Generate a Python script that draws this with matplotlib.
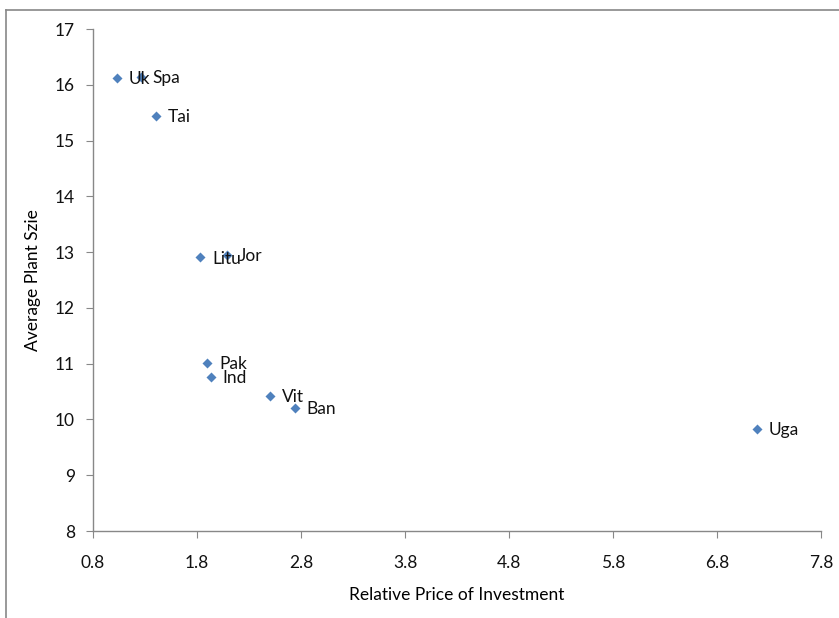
import matplotlib
matplotlib.use('Agg')
import matplotlib.pyplot as plt
from matplotlib.lines import Line2D

# data
countries = ['Uk', 'Spa', 'Tai', 'Litu', 'Jor', 'Pak', 'Ind', 'Vit', 'Ban', 'Uga']
price = [1.03, 1.26, 1.41, 1.83, 2.09, 1.90, 1.93, 2.50, 2.74, 7.18]
plant_size = [16.12, 16.14, 15.44, 12.91, 12.95, 11.01, 10.76, 10.42, 10.21, 9.83]
x_ticks = [0.8, 1.8, 2.8, 3.8, 4.8, 5.8, 6.8, 7.8]
y_ticks = [8, 9, 10, 11, 12, 13, 14, 15, 16, 17]

plt.rcParams['font.family'] = ['Lato', 'DejaVu Sans']

fig = plt.figure(figsize=(8.39, 6.18), dpi=100)
ax = fig.add_axes([93/839, 1-531/618, (821-93)/839, (531-29)/618])

ax.scatter(price, plant_size, marker='D', s=26, color='#4F81BD', zorder=3, linewidths=0)
for name, px, py in zip(countries, price, plant_size):
    ax.annotate(name, (px, py), xytext=(8.5, -1), textcoords='offset points',
                va='center', ha='left', fontsize=12.5, color='#111111')

ax.set_xlim(0.8, 7.8)
ax.set_ylim(8, 17)
ax.set_xticks(x_ticks)
ax.set_xticklabels([f'{t:.1f}' for t in x_ticks])
ax.set_yticks(y_ticks)

for side in ['top', 'right']:
    ax.spines[side].set_visible(False)
for side in ['left', 'bottom']:
    ax.spines[side].set_color('#888888')
    ax.spines[side].set_linewidth(1.0)

ax.tick_params(axis='both', colors='#888888', labelcolor='#111111', length=5,
               labelsize=12.5)
ax.tick_params(axis='x', pad=12)
ax.tick_params(axis='y', pad=8)

ax.set_xlabel('Relative Price of Investment', fontsize=12.5, labelpad=12)
ax.set_ylabel('Average Plant Szie', fontsize=12.5, labelpad=10)

# chart area border (only top and left visible in the crop)
fig.add_artist(Line2D([6/839, 6/839], [0, 1-10/618], transform=fig.transFigure,
                      color='#888888', linewidth=1.2))
fig.add_artist(Line2D([6/839, 1], [1-10/618, 1-10/618], transform=fig.transFigure,
                      color='#888888', linewidth=1.2))

fig.savefig('out.png', dpi=100)
